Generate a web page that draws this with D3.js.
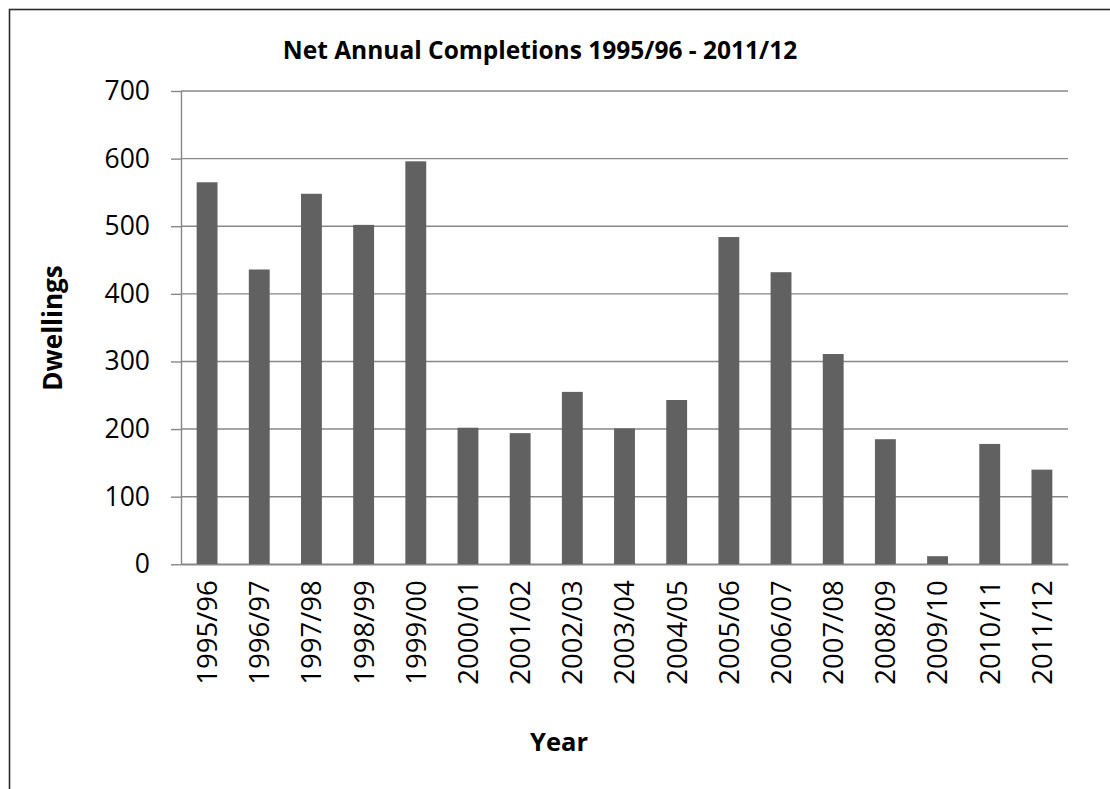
<!DOCTYPE html>
<html>
<head>
<meta charset="utf-8">
<script src="https://cdn.jsdelivr.net/npm/d3@7"></script>
<style>
  html, body { margin: 0; padding: 0; background: #fff; }
  svg { display: block; }
</style>
</head>
<body>
<svg id="chart" width="1110" height="789"></svg>
<script>
// Net annual dwelling completions by financial year
const years = ["1995/96", "1996/97", "1997/98", "1998/99", "1999/00", "2000/01", "2001/02",
  "2002/03", "2003/04", "2004/05", "2005/06", "2006/07", "2007/08", "2008/09",
  "2009/10", "2010/11", "2011/12"];
const completions = [565, 436, 548, 502, 596, 202, 194, 255, 201, 243, 484, 432, 311, 185, 12, 178, 140];
const yTicks = [0, 100, 200, 300, 400, 500, 600, 700];

const titleText = "Net Annual Completions 1995/96 - 2011/12";
const xTitle = "Year";
const yTitle = "Dwellings";

const svg = d3.select("#chart");
const font = "'Open Sans', 'Liberation Sans', sans-serif";
const plot = { left: 181, right: 1068, top: 91, bottom: 564.3 };
const gridColor = "#878787";

// outer frame of the chart
svg.append("rect")
  .attr("x", 9.5).attr("y", 9.5)
  .attr("width", 1120).attr("height", 800)
  .attr("fill", "#fff")
  .attr("stroke", "#2b2b2b")
  .attr("stroke-width", 1.6);

const x = d3.scaleBand()
  .domain(years)
  .range([plot.left, plot.right])
  .paddingInner(0.6)
  .paddingOuter(0.3);

const y = d3.scaleLinear()
  .domain([0, 700])
  .range([plot.bottom, plot.top]);

// horizontal gridlines
svg.append("g")
  .selectAll("line")
  .data(yTicks)
  .join("line")
  .attr("x1", plot.left).attr("x2", plot.right)
  .attr("y1", d => y(d)).attr("y2", d => y(d))
  .attr("stroke", gridColor)
  .attr("stroke-width", 1.4);

// y axis
const yAxis = svg.append("g")
  .attr("transform", `translate(${plot.left},0)`)
  .call(d3.axisLeft(y).tickValues(yTicks).tickSize(10).tickPadding(21).tickSizeOuter(0));
yAxis.select(".domain").attr("stroke", gridColor).attr("stroke-width", 1.4);
yAxis.selectAll(".tick line").attr("stroke", gridColor).attr("stroke-width", 1.4);
yAxis.selectAll(".tick text")
  .attr("font-family", font)
  .attr("font-size", 26.5)
  .attr("fill", "#000");

// bars
svg.append("g")
  .selectAll("rect")
  .data(years.map((yr, i) => ({ yr, v: completions[i] })))
  .join("rect")
  .attr("x", d => x(d.yr))
  .attr("y", d => y(d.v))
  .attr("width", x.bandwidth())
  .attr("height", d => y(0) - y(d.v))
  .attr("fill", "#616161");

// x axis (baseline redrawn over the bars)
const xAxis = svg.append("g")
  .attr("transform", `translate(0,${plot.bottom})`)
  .call(d3.axisBottom(x).tickSize(0).tickPadding(0));
xAxis.select(".domain").attr("stroke", gridColor).attr("stroke-width", 1.4);
xAxis.selectAll(".tick text")
  .attr("font-family", font)
  .attr("font-size", 27.5)
  .attr("fill", "#000")
  .attr("text-anchor", "end")
  .attr("transform", "translate(0,16) rotate(-90)")
  .attr("x", 0)
  .attr("y", 0)
  .attr("dy", "0.36em");

// title
svg.append("text")
  .attr("x", 540).attr("y", 59)
  .attr("text-anchor", "middle")
  .attr("font-family", font)
  .attr("font-weight", "bold")
  .attr("font-size", 24.5)
  .text(titleText);

// axis titles
svg.append("text")
  .attr("x", 559).attr("y", 751)
  .attr("text-anchor", "middle")
  .attr("font-family", font)
  .attr("font-weight", "bold")
  .attr("font-size", 25.5)
  .text(xTitle);

svg.append("text")
  .attr("transform", "translate(62,328) rotate(-90)")
  .attr("text-anchor", "middle")
  .attr("font-family", font)
  .attr("font-weight", "bold")
  .attr("font-size", 26)
  .text(yTitle);
</script>
</body>
</html>
